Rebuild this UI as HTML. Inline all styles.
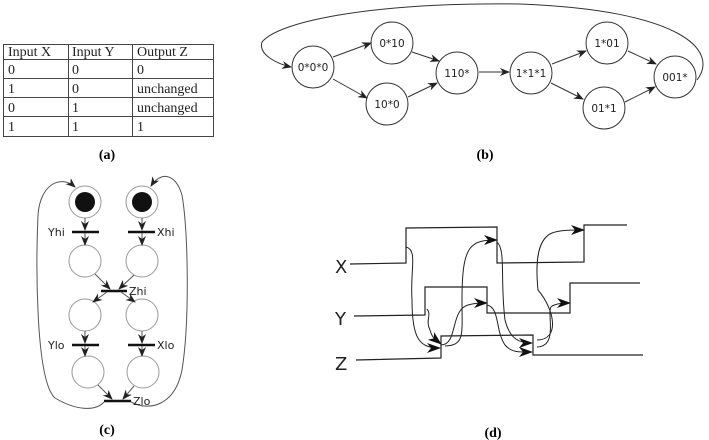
<!DOCTYPE html>
<html><head><meta charset="utf-8"><style>
html,body{margin:0;padding:0;background:#fff;}
svg{display:block;}
.s{font-family:"DejaVu Sans","Liberation Sans",sans-serif;}
.r{font-family:"Liberation Serif",serif;}
</style></head><body>
<svg width="709" height="440" viewBox="0 0 709 440" xmlns="http://www.w3.org/2000/svg">
<defs>
<marker id="a" markerWidth="10" markerHeight="8" refX="9" refY="4" orient="auto" markerUnits="userSpaceOnUse"><path d="M0,0 L10,4 L0,8 L3,4 Z" fill="#222"/></marker>
<marker id="b" markerWidth="14" markerHeight="10" refX="13" refY="5" orient="auto" markerUnits="userSpaceOnUse"><path d="M0,0 L14,5 L0,10 L4,5 Z" fill="#111"/></marker>
</defs>
<!-- (a) table -->
<g stroke="#444" stroke-width="1" fill="none">
<rect x="3.5" y="44.5" width="210" height="92"/>
<line x1="3.5" y1="59.5" x2="213.5" y2="59.5"/>
<line x1="3.5" y1="78.5" x2="213.5" y2="78.5"/>
<line x1="3.5" y1="97.5" x2="213.5" y2="97.5"/>
<line x1="3.5" y1="116.5" x2="213.5" y2="116.5"/>
<line x1="68.5" y1="44.5" x2="68.5" y2="136.5"/>
<line x1="132.5" y1="44.5" x2="132.5" y2="136.5"/>
</g>
<g class="r" font-size="14" fill="#222">
<text x="8" y="56">Input X</text><text x="72" y="56">Input Y</text><text x="137" y="56">Output Z</text>
<text x="8" y="74">0</text><text x="72" y="74">0</text><text x="137" y="74">0</text>
<text x="8" y="93">1</text><text x="72" y="93">0</text><text x="137" y="93">unchanged</text>
<text x="8" y="112">0</text><text x="72" y="112">1</text><text x="137" y="112">unchanged</text>
<text x="8" y="131">1</text><text x="72" y="131">1</text><text x="137" y="131">1</text>
</g>
<text class="r" x="107" y="159" font-size="14" font-weight="bold" text-anchor="middle">(a)</text>

<!-- (b) -->
<g stroke="#333" stroke-width="1" fill="#fff">
<circle cx="313" cy="67" r="21"/><circle cx="392" cy="43" r="21"/><circle cx="387" cy="104" r="21"/>
<circle cx="457" cy="73" r="21"/><circle cx="531" cy="73" r="21"/><circle cx="607" cy="43" r="21"/>
<circle cx="604" cy="108" r="21"/><circle cx="675" cy="77" r="21"/>
</g>
<g stroke="#333" stroke-width="1" fill="none" marker-end="url(#a)">
<line x1="333" y1="57" x2="371" y2="43"/>
<line x1="333" y1="79" x2="367" y2="98"/>
<line x1="412" y1="52" x2="439" y2="61"/>
<line x1="408" y1="97" x2="437" y2="83"/>
<line x1="479" y1="72" x2="509" y2="72"/>
<line x1="552" y1="64" x2="586" y2="51"/>
<line x1="551" y1="83" x2="583" y2="99"/>
<line x1="628" y1="51" x2="656" y2="64"/>
<line x1="625" y1="102" x2="655" y2="87"/>
<path d="M697,80 C720,50 680,10 520,4 C380,2 280,20 262,42 C258,55 278,64 291,67"/>
</g>
<g class="s" font-size="10.5" fill="#222" text-anchor="middle">
<text x="313" y="71">0*0*0</text><text x="392" y="47">0*10</text><text x="387" y="108">10*0</text>
<text x="457" y="77">110*</text><text x="531" y="77">1*1*1</text><text x="607" y="47">1*01</text>
<text x="604" y="112">01*1</text><text x="675" y="81">001*</text>
</g>
<text class="r" x="485" y="159" font-size="14" font-weight="bold" text-anchor="middle">(b)</text>

<!-- (c) -->
<g stroke="#999" stroke-width="1" fill="#fff">
<circle cx="85" cy="202" r="16"/><circle cx="142" cy="202" r="16"/>
<circle cx="85" cy="261" r="16"/><circle cx="142" cy="261" r="16"/>
<circle cx="85" cy="315" r="16"/><circle cx="142" cy="315" r="16"/>
<circle cx="88" cy="372" r="16"/><circle cx="143" cy="372" r="16"/>
</g>
<circle cx="85" cy="202" r="10" fill="#111"/><circle cx="142" cy="202" r="10" fill="#111"/>
<g stroke="#111" stroke-width="2.5">
<line x1="72" y1="232" x2="99" y2="232"/><line x1="128" y1="232" x2="155" y2="232"/>
<line x1="101" y1="291" x2="127" y2="291"/>
<line x1="72" y1="345" x2="99" y2="345"/><line x1="128" y1="345" x2="155" y2="345"/>
<line x1="104" y1="401" x2="131" y2="401"/>
</g>
<g stroke="#555" stroke-width="1" fill="none" marker-end="url(#a)">
<line x1="85" y1="218" x2="85" y2="230"/><line x1="85" y1="233" x2="85" y2="245"/>
<line x1="142" y1="218" x2="142" y2="230"/><line x1="142" y1="233" x2="142" y2="245"/>
<line x1="95" y1="274" x2="110" y2="289"/><line x1="134" y1="275" x2="119" y2="289"/>
<line x1="107" y1="292" x2="93" y2="302"/><line x1="121" y1="292" x2="135" y2="302"/>
<line x1="85" y1="331" x2="85" y2="343"/><line x1="85" y1="346" x2="85" y2="356"/>
<line x1="142" y1="331" x2="142" y2="343"/><line x1="142" y1="346" x2="142" y2="356"/>
<line x1="98" y1="385" x2="112" y2="399"/><line x1="134" y1="386" x2="123" y2="399"/>
<path d="M104,402 C95,412 75,410 55,398 C35,380 36,260 38,215 C40,185 60,174 75,187"/>
<path d="M131,402 C150,412 175,405 182,370 C190,320 188,230 182,195 C175,172 160,172 151,186"/>
</g>
<g class="s" font-size="11" fill="#222">
<text x="48" y="236">Yhi</text><text x="157" y="236">Xhi</text><text x="129" y="295">Zhi</text>
<text x="48" y="349">Ylo</text><text x="157" y="349">Xlo</text><text x="133" y="405">Zlo</text>
</g>
<text class="r" x="107" y="434" font-size="14" font-weight="bold" text-anchor="middle">(c)</text>

<!-- (d) -->
<g stroke="#222" stroke-width="1.2" fill="none">
<polyline points="350,264 406,263 406,228 497,227 497,263 584,262 584,225 627,225"/>
<polyline points="354,316 425,315 425,287 487,287 487,313 570,313 570,283 640,283"/>
<polyline points="356,360 441,358 441,336 533,335 533,355 643,355"/>
</g>
<g stroke="#222" stroke-width="1" fill="none" marker-end="url(#b)">
<path d="M406,247 C418,250 410,270 412,300 C412,340 420,348 440,348"/>
<path d="M427,309 C432,315 425,320 430,330 C432,338 436,340 441,344"/>
<path d="M445,346 C465,345 462,335 462,300 C462,245 470,240 497,240"/>
<path d="M441,345 C458,345 450,310 468,305 C475,303 480,303 487,303"/>
<path d="M497,242 C506,250 500,280 505,320 C510,340 520,343 532,343"/>
<path d="M487,305 C500,308 495,330 505,345 C512,353 520,352 532,352"/>
<path d="M537,340 C560,340 555,310 538,290 C536,270 535,240 552,233 C560,230 570,230 584,230"/>
<path d="M537,347 C560,346 545,310 552,306 C558,303 565,303 570,303"/>
</g>
<g class="s" font-size="18" fill="#222">
<text x="335" y="273">X</text><text x="335" y="325">Y</text><text x="335" y="370">Z</text>
</g>
<text class="r" x="493" y="437" font-size="14" font-weight="bold" text-anchor="middle">(d)</text>
</svg>
</body></html>
